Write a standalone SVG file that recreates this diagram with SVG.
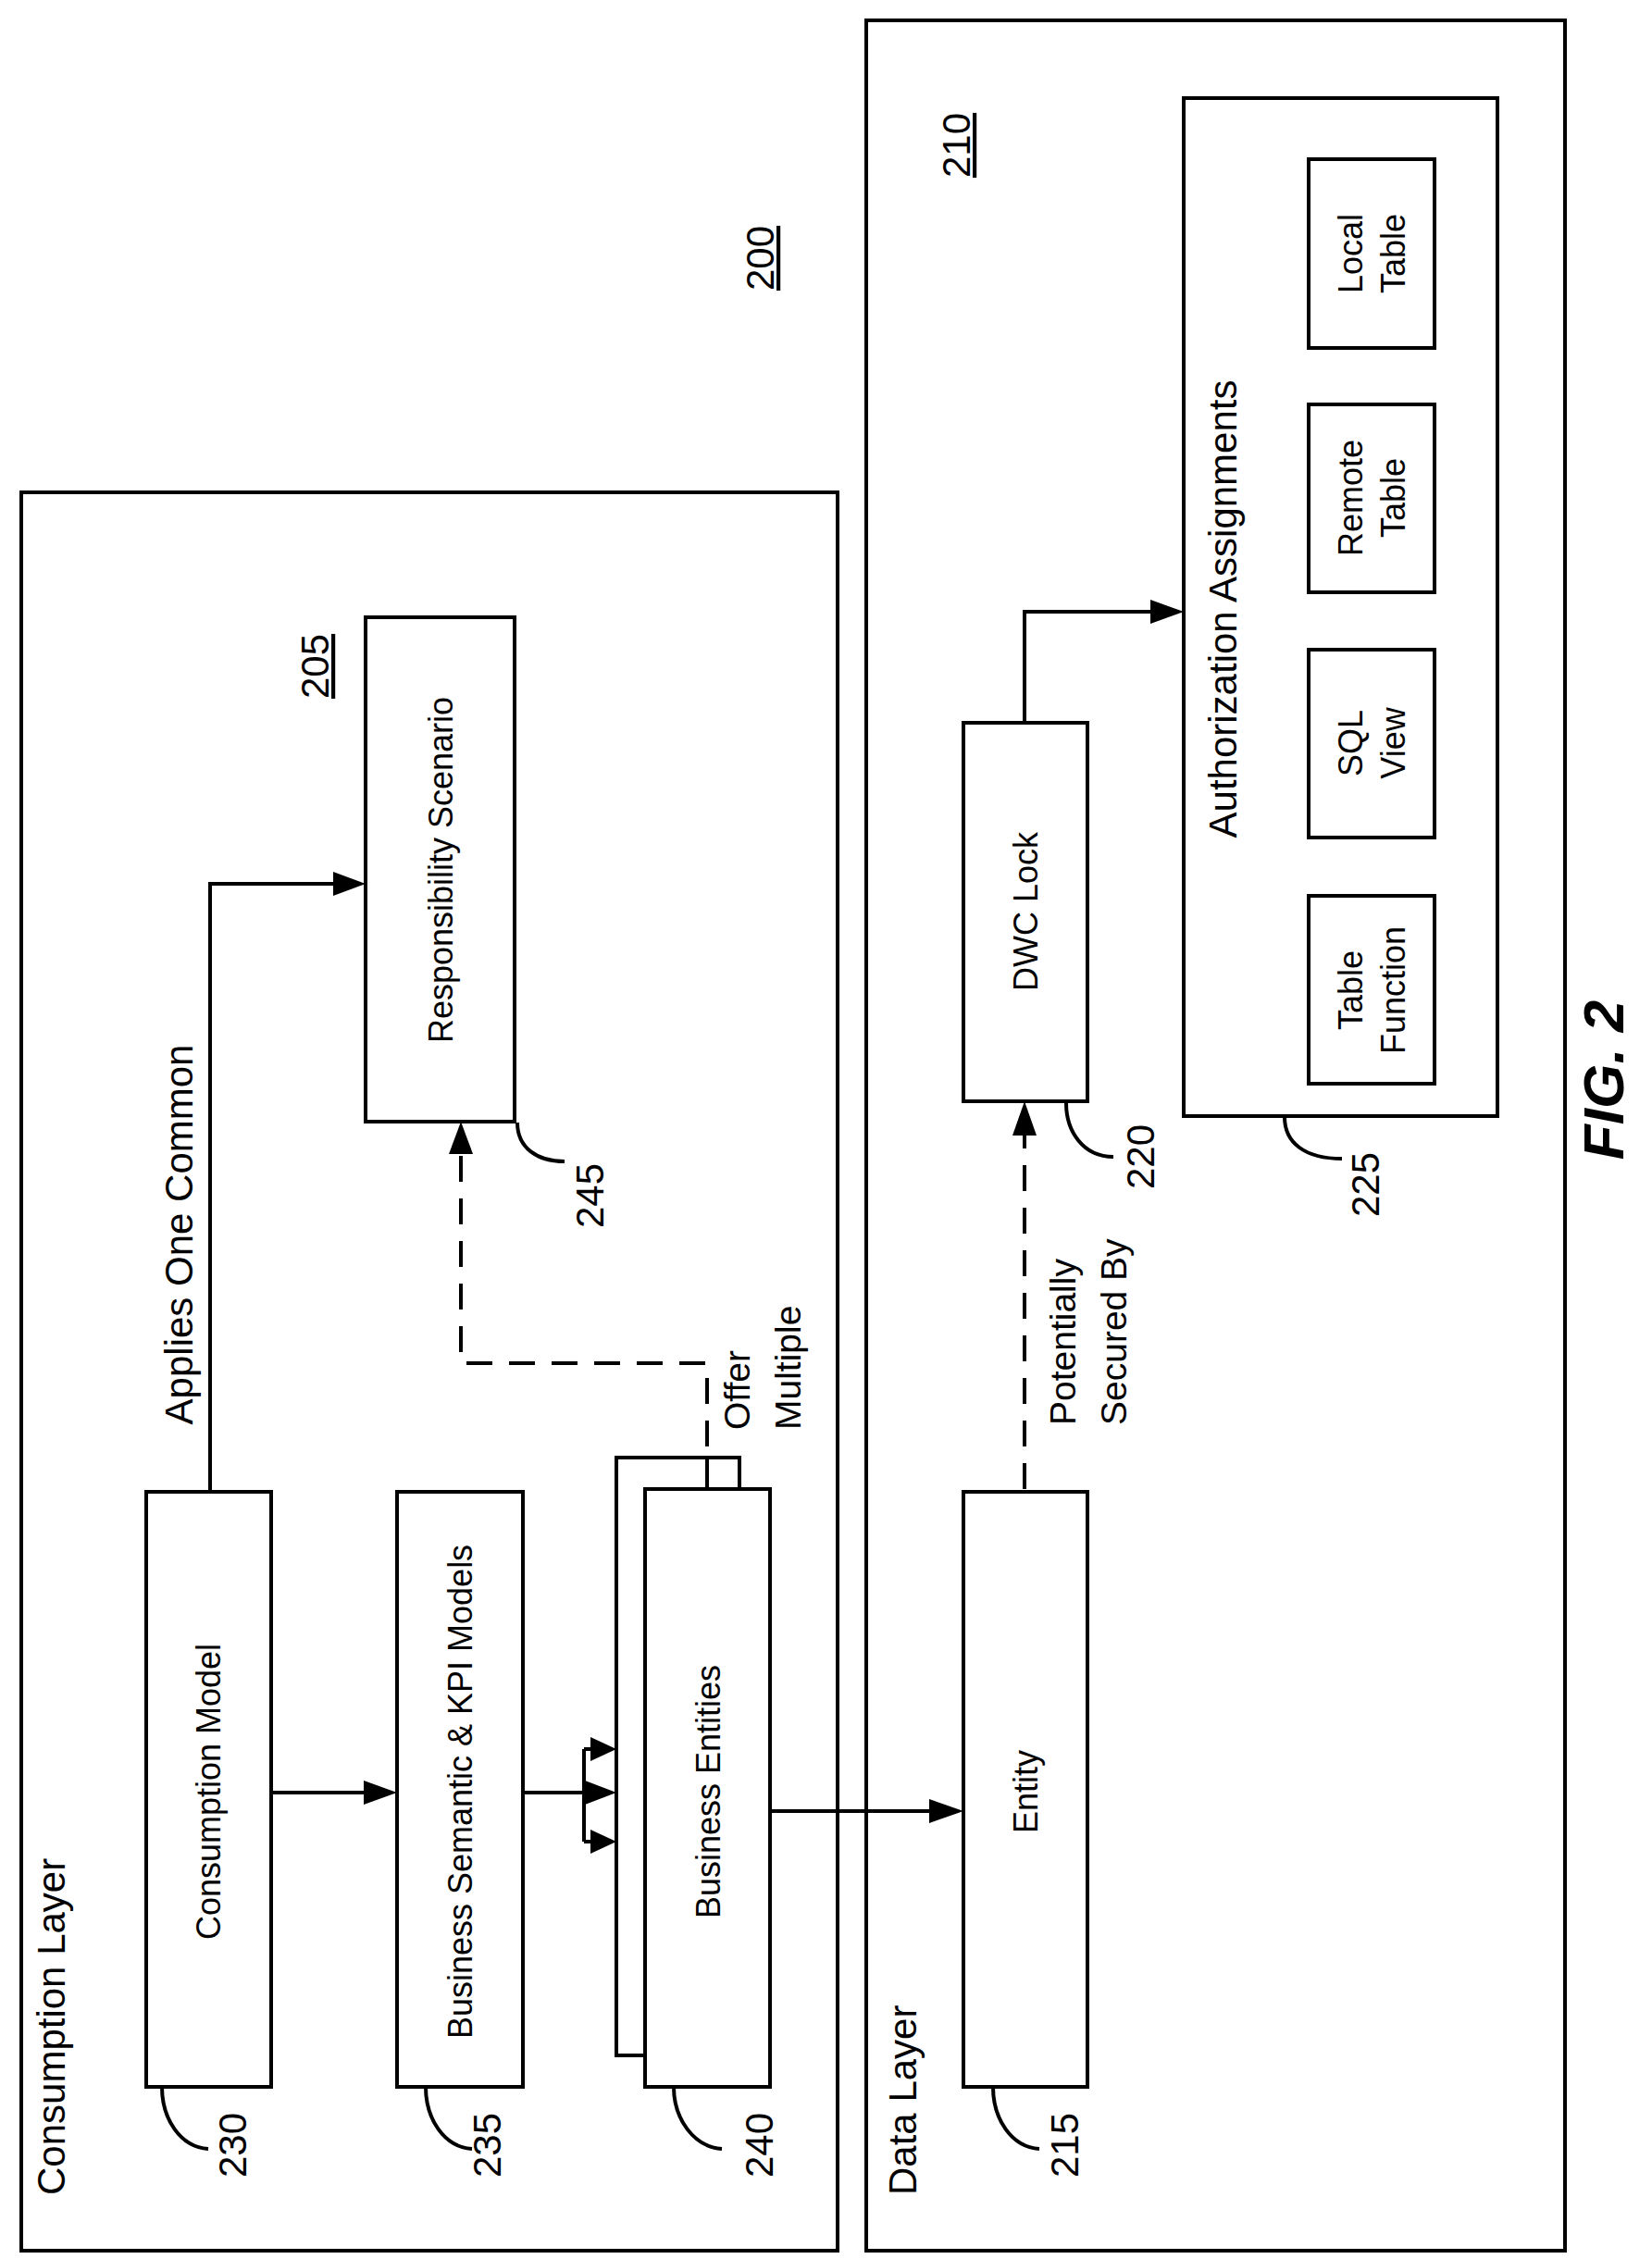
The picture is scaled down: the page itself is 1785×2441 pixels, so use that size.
<svg xmlns="http://www.w3.org/2000/svg" width="1785" height="2441" viewBox="0 0 1785 2441">
<style>
.b{fill:#fff;stroke:#000;stroke-width:4}
.f{fill:none;stroke:#000;stroke-width:4}
.t{font-family:"Liberation Sans",Arial,sans-serif;fill:#000}
.n{font-size:36px}
.L{font-size:42px}
.M{font-size:39px}
</style>
<rect width="1785" height="2441" fill="#fff"/>
<g id="n200"><text class="t L" text-decoration="underline" transform="translate(836,279) rotate(-90)" text-anchor="middle">200</text></g>
<g id="n205"><rect class="b" x="23" y="532" width="882" height="1900"/>
<text class="t L" transform="translate(70,2372) rotate(-90)">Consumption Layer</text>
<text class="t L" text-decoration="underline" transform="translate(355,720) rotate(-90)" text-anchor="middle">205</text></g>
<g id="n210"><rect class="b" x="936" y="22" width="755" height="2410"/>
<text class="t L" transform="translate(990,2372) rotate(-90)">Data Layer</text>
<text class="t L" text-decoration="underline" transform="translate(1048,157) rotate(-90)" text-anchor="middle">210</text></g>
<g id="connectors">
<path class="f" d="M227,1612V955H360"/><path d="M360,942L395,955L360,968z"/>
<path class="f" d="M293,1937H395"/><path d="M393,1924L429,1937L393,1950z"/>
<path class="f" d="M565,1937H632"/><path d="M632,1924L666,1937L632,1950z"/>
<path class="f" d="M631,1890V1990M631,1890H640M631,1990H640"/>
<path d="M638,1877L666,1890L638,1903z"/>
<path d="M638,1977L666,1990L638,2003z"/>
<path class="f" d="M832,1957H1006"/><path d="M1004,1944L1041,1957L1004,1970z"/>
<path class="f" d="M764,1609V1473H498V1245" stroke-dasharray="28,18"/><path d="M485,1247L498,1212L511,1247z"/>
<path class="f" d="M1107,1609V1225" stroke-dasharray="28,18"/><path d="M1094,1227L1107,1190L1120,1227z"/>
<path class="f" d="M1107,781V661H1245"/><path d="M1243,648L1279,661L1243,674z"/>
</g>
<g id="n245"><rect class="b" x="395" y="667" width="161" height="545"/>
<text class="t n" transform="translate(476,940) rotate(-90)" text-anchor="middle" dominant-baseline="central">Responsibility Scenario</text>
<path class="f" d="M559,1213C559,1240 580,1255 610,1255" stroke-width="3"/>
<text class="t L" transform="translate(652,1292) rotate(-90)" text-anchor="middle">245</text></g>
<g id="n230"><rect class="b" x="158" y="1612" width="135" height="643"/>
<text class="t n" transform="translate(225,1936) rotate(-90)" text-anchor="middle" dominant-baseline="central">Consumption Model</text>
<path class="f" stroke-width="3" d="M175,2255C175,2290 195,2320 225,2322"/>
<text class="t L" transform="translate(266,2318) rotate(-90)" text-anchor="middle">230</text></g>
<g id="n235"><rect class="b" x="429" y="1612" width="136" height="643"/>
<text class="t n" transform="translate(497,1936) rotate(-90)" text-anchor="middle" dominant-baseline="central">Business Semantic &amp; KPI Models</text>
<path class="f" stroke-width="3" d="M460,2255C460,2290 480,2320 510,2322"/>
<text class="t L" transform="translate(541,2318) rotate(-90)" text-anchor="middle">235</text></g>
<g id="n240"><rect class="b" x="666" y="1575" width="133" height="646"/>
<rect class="b" x="697" y="1609" width="135" height="646"/>
<path class="f" d="M764,1575V1609"/>
<text class="t n" transform="translate(765,1936) rotate(-90)" text-anchor="middle" dominant-baseline="central">Business Entities</text>
<path class="f" stroke-width="3" d="M728,2255C728,2290 750,2320 780,2322"/>
<text class="t L" transform="translate(835,2318) rotate(-90)" text-anchor="middle">240</text></g>
<g id="n215"><rect class="b" x="1041" y="1612" width="134" height="643"/>
<text class="t n" transform="translate(1108,1936) rotate(-90)" text-anchor="middle" dominant-baseline="central">Entity</text>
<path class="f" stroke-width="3" d="M1073,2255C1073,2290 1093,2320 1123,2322"/>
<text class="t L" transform="translate(1165,2318) rotate(-90)" text-anchor="middle">215</text></g>
<g id="n220"><rect class="b" x="1041" y="781" width="134" height="409"/>
<text class="t n" transform="translate(1108,985) rotate(-90)" text-anchor="middle" dominant-baseline="central">DWC Lock</text>
<path class="f" stroke-width="3" d="M1152,1192C1152,1222 1170,1250 1203,1250"/>
<text class="t L" transform="translate(1247,1250) rotate(-90)" text-anchor="middle">220</text></g>
<g id="n225"><rect class="b" x="1279" y="106" width="339" height="1100"/>
<text class="t L" transform="translate(1336,658) rotate(-90)" text-anchor="middle">Authorization Assignments</text>
<path class="f" stroke-width="3" d="M1388,1207C1388,1235 1410,1252 1450,1252"/>
<text class="t L" transform="translate(1490,1280) rotate(-90)" text-anchor="middle">225</text></g>
<g id="local"><rect class="b" x="1414" y="172" width="136" height="204"/>
<text class="t n" transform="translate(1472,274) rotate(-90)" text-anchor="middle">Local</text>
<text class="t n" transform="translate(1518,274) rotate(-90)" text-anchor="middle">Table</text></g>
<g id="remote"><rect class="b" x="1414" y="437" width="136" height="203"/>
<text class="t n" transform="translate(1472,538) rotate(-90)" text-anchor="middle">Remote</text>
<text class="t n" transform="translate(1518,538) rotate(-90)" text-anchor="middle">Table</text></g>
<g id="sql"><rect class="b" x="1414" y="702" width="136" height="203"/>
<text class="t n" transform="translate(1472,803) rotate(-90)" text-anchor="middle">SQL</text>
<text class="t n" transform="translate(1518,803) rotate(-90)" text-anchor="middle">View</text></g>
<g id="tf"><rect class="b" x="1414" y="968" width="136" height="203"/>
<text class="t n" transform="translate(1472,1070) rotate(-90)" text-anchor="middle">Table</text>
<text class="t n" transform="translate(1518,1070) rotate(-90)" text-anchor="middle">Function</text></g>
<g id="labels">
<text class="t L" transform="translate(208,1334) rotate(-90)" text-anchor="middle">Applies One Common</text>
<text class="t M" transform="translate(810,1545) rotate(-90)">Offer</text>
<text class="t M" transform="translate(865,1545) rotate(-90)">Multiple</text>
<text class="t M" transform="translate(1162,1540) rotate(-90)">Potentially</text>
<text class="t M" transform="translate(1217,1540) rotate(-90)">Secured By</text>
<text class="t" font-size="62" font-weight="bold" font-style="italic" transform="translate(1754,1167) rotate(-90)" text-anchor="middle">FIG. 2</text>
</g>
</svg>
